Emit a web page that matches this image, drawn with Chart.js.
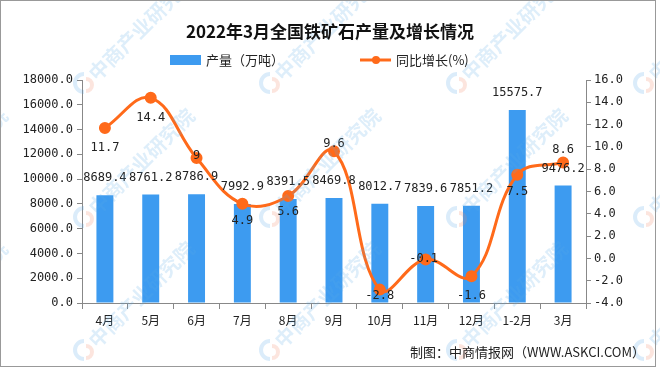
<!DOCTYPE html>
<html>
<head>
<meta charset="utf-8">
<script src="https://cdn.jsdelivr.net/npm/chart.js@4.4.0/dist/chart.umd.min.js"></script>
<style>
  html, body { margin: 0; padding: 0; background: #fff; }
  canvas { display: block; }
</style>
</head>
<body>
<canvas id="ironChart" width="660" height="368"></canvas>
<script>
// 2022年3月全国铁矿石产量数据
const months = ['4月', '5月', '6月', '7月', '8月', '9月', '10月', '11月', '12月', '1-2月', '3月'];
const output = [8689.4, 8761.2, 8786.9, 7992.9, 8391.5, 8469.8, 8012.7, 7839.6, 7851.2, 15575.7, 9476.2];
const growth = [11.7, 14.4, 9, 4.9, 5.6, 9.6, -2.8, -0.1, -1.6, 7.5, 8.6];

const BLUE = '#3d9bf0';
const ORANGE = '#ff6a1a';
const MONO = "'DejaVu Sans Mono', monospace";
const CJK = "'Noto Sans CJK SC', sans-serif";

// décalage vertical des étiquettes de la courbe (px)
const lineLabelDy = [20, 20, -2, 17, 16, -7, 6, -1, 20, 17, -13];
const lineLabelDx = [0, 0, 0, 0, 0, 0, 0, -2, 0, 0, 0];

// watermark 中商产业研究院
const watermark = {
    id: 'watermark',
    afterDraw(chart) {
        const ctx = chart.ctx;
        ctx.save();
        const xs = [-103, 84, 270, 457, 644];
        const ys = [83, 217, 350];
        ys.forEach(y => xs.forEach(x => {
            ctx.globalAlpha = 0.22;
            ctx.beginPath();
            ctx.arc(x, y, 9, Math.PI * 0.5, Math.PI * 1.5);
            ctx.strokeStyle = '#5aa9e6';
            ctx.lineWidth = 4;
            ctx.stroke();
            ctx.beginPath();
            ctx.arc(x + 2, y + 2, 6, -Math.PI * 0.5, Math.PI * 0.5);
            ctx.strokeStyle = '#f08a6a';
            ctx.stroke();
            ctx.globalAlpha = 0.2;
            ctx.translate(x + 8, y - 6);
            ctx.rotate(-Math.PI / 4);
            ctx.fillStyle = '#5aa9e6';
            ctx.font = "bold 20px " + CJK;
            ctx.textBaseline = 'middle';
            ctx.fillText('中商产业研究院', 0, 0);
            ctx.setTransform(1, 0, 0, 1, 0, 0);
        }));
        ctx.restore();
    }
};

// titre, légende, source et cadre
const decorations = {
    id: 'decorations',
    afterDraw(chart) {
        const ctx = chart.ctx;
        ctx.save();
        ctx.fillStyle = '#111';
        ctx.textAlign = 'center';
        ctx.textBaseline = 'middle';
        ctx.font = "bold 17px " + CJK;
        ctx.fillText('2022年3月全国铁矿石产量及增长情况', 330, 32);

        // légende
        ctx.fillStyle = BLUE;
        ctx.fillRect(170, 55, 31, 10);
        ctx.fillStyle = '#222';
        ctx.textAlign = 'left';
        ctx.font = "13px " + CJK;
        ctx.fillText('产量（万吨）', 206, 60);
        ctx.strokeStyle = ORANGE;
        ctx.lineWidth = 3;
        ctx.beginPath();
        ctx.moveTo(360, 60);
        ctx.lineTo(391, 60);
        ctx.stroke();
        ctx.fillStyle = ORANGE;
        ctx.beginPath();
        ctx.arc(376, 60, 4, 0, Math.PI * 2);
        ctx.fill();
        ctx.fillStyle = '#222';
        ctx.fillText('同比增长(%)', 396, 60);

        // source
        ctx.font = "13px " + CJK;
        ctx.textAlign = 'right';
        ctx.fillText('制图：中商情报网（WWW.ASKCI.COM）', 645, 352);

        ctx.strokeStyle = '#999';
        ctx.lineWidth = 1;
        ctx.strokeRect(0.5, 0.5, 655, 366);
        ctx.restore();
    }
};

// étiquettes des valeurs
const valueLabels = {
    id: 'valueLabels',
    afterDatasetsDraw(chart) {
        const ctx = chart.ctx;
        ctx.save();
        ctx.font = "12px " + MONO;
        ctx.fillStyle = '#222';
        ctx.textAlign = 'center';
        ctx.textBaseline = 'middle';
        chart.getDatasetMeta(1).data.forEach((bar, i) => {
            ctx.fillText(output[i].toFixed(1), bar.x, bar.y - 17);
        });
        chart.getDatasetMeta(0).data.forEach((pt, i) => {
            ctx.fillText(String(growth[i]), pt.x + lineLabelDx[i], pt.y + lineLabelDy[i]);
        });
        ctx.restore();
    }
};

new Chart(document.getElementById('ironChart'), {
    type: 'bar',
    data: {
        labels: months,
        datasets: [
            {
                type: 'line',
                label: '同比增长(%)',
                data: growth,
                yAxisID: 'y1',
                borderColor: ORANGE,
                backgroundColor: ORANGE,
                borderWidth: 3,
                pointRadius: 4.5,
                pointBackgroundColor: ORANGE,
                pointBorderColor: ORANGE,
                tension: 0.4,
                order: 0
            },
            {
                label: '产量（万吨）',
                data: output,
                yAxisID: 'y',
                backgroundColor: BLUE,
                barPercentage: 0.37,
                categoryPercentage: 1,
                order: 1
            }
        ]
    },
    options: {
        responsive: false,
        animation: false,
        layout: { padding: { top: 80, left: 0, right: 0, bottom: 30 } },
        plugins: {
            legend: { display: false },
            tooltip: { enabled: false }
        },
        scales: {
            x: {
                grid: { offset: true, drawOnChartArea: false, tickLength: 6, color: '#888' },
                border: { color: '#888' },
                ticks: { color: '#222', font: { family: CJK, size: 12 }, padding: 4 },
                afterFit(scale) { scale.height = 35; }
            },
            y: {
                position: 'left',
                min: 0,
                max: 18000,
                grid: { drawOnChartArea: false, tickLength: 5, color: '#888' },
                border: { color: '#888' },
                ticks: {
                    stepSize: 2000,
                    color: '#222',
                    padding: 4,
                    font: { family: MONO, size: 12 },
                    callback: v => v.toFixed(1)
                },
                afterFit(scale) { scale.width = 82; }
            },
            y1: {
                position: 'right',
                min: -4,
                max: 16,
                grid: { drawOnChartArea: false, tickLength: 5, color: '#888' },
                border: { color: '#888' },
                ticks: {
                    stepSize: 2,
                    color: '#222',
                    padding: 3,
                    font: { family: MONO, size: 12 },
                    callback: v => v.toFixed(1)
                },
                afterFit(scale) { scale.width = 74; }
            }
        }
    },
    plugins: [valueLabels, watermark, decorations]
});
</script>
</body>
</html>
